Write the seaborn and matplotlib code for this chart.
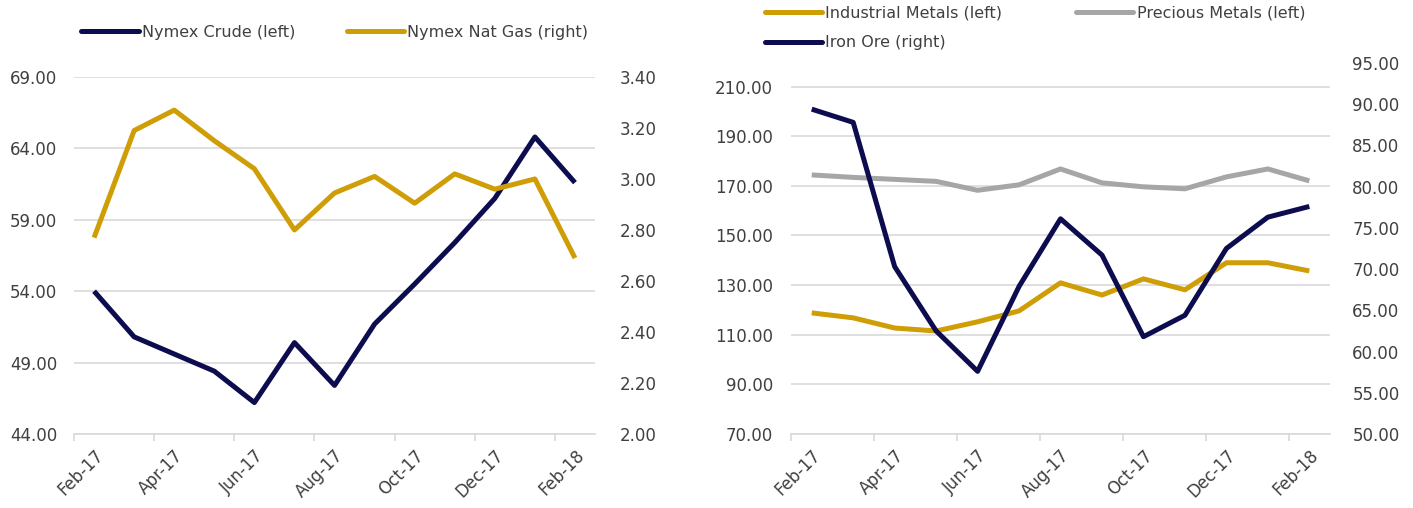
import matplotlib
matplotlib.use("Agg")
import matplotlib.pyplot as plt
import seaborn as sns
import pandas as pd
import numpy as np
from matplotlib.lines import Line2D

sns.set_theme(style="white")
plt.rcParams['font.family'] = ['DejaVu Sans']

months = ["Feb-17", "Mar-17", "Apr-17", "May-17", "Jun-17", "Jul-17", "Aug-17",
          "Sep-17", "Oct-17", "Nov-17", "Dec-17", "Jan-18", "Feb-18"]
nymex_crude = [54.0, 50.8, 49.6, 48.4, 46.2, 50.4, 47.4, 51.7, 54.5, 57.4, 60.5, 64.8, 61.6]
nymex_gas = [2.77, 3.19, 3.27, 3.15, 3.04, 2.80, 2.945, 3.01, 2.905, 3.02, 2.96, 3.00, 2.69]
industrial = [118.8, 116.8, 112.7, 111.5, 115.2, 119.6, 130.9, 126.0, 132.5, 128.1, 139.0, 139.0, 135.7]
precious = [174.4, 173.4, 172.6, 171.8, 168.2, 170.4, 176.8, 171.2, 169.6, 168.8, 173.6, 176.8, 172.0]
iron_ore = [89.4, 87.8, 70.3, 62.5, 57.6, 67.9, 76.1, 71.7, 61.8, 64.4, 72.5, 76.3, 77.6]

NAVY = "#0c0c4f"
GOLD = "#cf9e06"
GRAY = "#a6a6a6"
GRID = "#d9d9d9"
TXT = "#404040"

x = np.arange(len(months))
df1 = pd.DataFrame({"x": x, "crude": nymex_crude, "gas": nymex_gas})
df2 = pd.DataFrame({"x": x, "ind": industrial, "prec": precious, "iron": iron_ore})

fig = plt.figure(figsize=(14.13, 5.08), dpi=100)
LW = 3.6
FS = 12
LFS = 11.5


def style_x(ax):
    ax.set_xlim(-0.5, len(months) - 0.5)
    ax.set_xticks(np.arange(-0.5, len(months), 2))
    ax.set_xticklabels([])
    ax.set_xticks(x[::2], minor=True)
    ax.set_xticklabels([months[i] for i in x[::2]], minor=True, rotation=45,
                       ha="right", va="top", rotation_mode="anchor", fontsize=FS, color=TXT)
    ax.tick_params(axis="x", which="major", length=5, width=1.2, color=GRID, direction="out", bottom=True)
    ax.tick_params(axis="x", which="minor", length=0, pad=9)
    ax.set_xlabel("")
    for s in ["top", "right", "left"]:
        ax.spines[s].set_visible(False)
    ax.spines["bottom"].set_color(GRID)
    ax.spines["bottom"].set_linewidth(1.2)


# ---- Left panel ----
ax1 = fig.add_axes([0.0524, 0.1457, 0.3687, 0.7028])
ax1b = ax1.twinx()
sns.lineplot(data=df1, x="x", y="crude", ax=ax1, color=NAVY, linewidth=LW,
             solid_joinstyle="round", solid_capstyle="butt", zorder=3)
sns.lineplot(data=df1, x="x", y="gas", ax=ax1b, color=GOLD, linewidth=LW,
             solid_joinstyle="round", solid_capstyle="butt", zorder=3)
ax1.set_ylim(44, 69)
ax1.set_yticks(np.arange(44, 69.01, 5))
ax1.set_yticklabels([f"{v:.2f}" for v in np.arange(44, 69.01, 5)], fontsize=FS, color=TXT)
ax1b.set_ylim(2.0, 3.4)
ax1b.set_yticks(np.arange(2.0, 3.401, 0.2))
ax1b.set_yticklabels([f"{v:.2f}" for v in np.arange(2.0, 3.401, 0.2)], fontsize=FS, color=TXT)
ax1.grid(axis="y", color=GRID, linewidth=1.2)
ax1.set_axisbelow(True)
ax1.set_ylabel("")
ax1b.set_ylabel("")
ax1.tick_params(axis="y", length=0, pad=12)
ax1b.tick_params(axis="y", length=0, pad=18)
style_x(ax1)
for s in ax1b.spines.values():
    s.set_visible(False)

h1 = [Line2D([], [], color=NAVY, lw=LW, solid_capstyle="round"),
      Line2D([], [], color=GOLD, lw=LW, solid_capstyle="round")]
fig.legend(h1, ["Nymex Crude (left)", "Nymex Nat Gas (right)"], loc="center",
           bbox_to_anchor=(0.237, 0.937), ncol=2, frameon=False, fontsize=LFS,
           handlelength=3.6, handletextpad=0.2, columnspacing=3.2, labelcolor=TXT)

# ---- Right panel ----
ax2 = fig.add_axes([0.5598, 0.1457, 0.3815, 0.7303])
ax2b = ax2.twinx()
sns.lineplot(data=df2, x="x", y="ind", ax=ax2, color=GOLD, linewidth=LW,
             solid_joinstyle="round", solid_capstyle="butt", zorder=3)
sns.lineplot(data=df2, x="x", y="prec", ax=ax2, color=GRAY, linewidth=LW,
             solid_joinstyle="round", solid_capstyle="butt", zorder=3)
sns.lineplot(data=df2, x="x", y="iron", ax=ax2b, color=NAVY, linewidth=LW,
             solid_joinstyle="round", solid_capstyle="butt", zorder=3)
ax2.set_ylim(70, 219.5)
lt = np.arange(70, 210.01, 20)
ax2.set_yticks(lt)
ax2.set_yticklabels([f"{v:.2f}" for v in lt], fontsize=FS, color=TXT)
ax2b.set_ylim(50, 95)
rt = np.arange(50, 95.01, 5)
ax2b.set_yticks(rt)
ax2b.set_yticklabels([f"{v:.2f}" for v in rt], fontsize=FS, color=TXT)
ax2.grid(axis="y", color=GRID, linewidth=1.2)
ax2.set_axisbelow(True)
ax2.set_ylabel("")
ax2b.set_ylabel("")
ax2.tick_params(axis="y", length=0, pad=13)
ax2b.tick_params(axis="y", length=0, pad=16)
style_x(ax2)
for s in ax2b.spines.values():
    s.set_visible(False)

h2 = [Line2D([], [], color=GOLD, lw=LW, solid_capstyle="round"),
      Line2D([], [], color=NAVY, lw=LW, solid_capstyle="round"),
      Line2D([], [], color=GRAY, lw=LW, solid_capstyle="round")]
fig.legend(h2, ["Industrial Metals (left)", "Iron Ore (right)", "Precious Metals (left)"],
           loc="upper left", bbox_to_anchor=(0.531, 1.018), ncol=2, frameon=False, fontsize=LFS,
           handlelength=3.6, handletextpad=0.2, columnspacing=4.6, labelspacing=0.95,
           labelcolor=TXT)

fig.savefig("out.png", dpi=100)
